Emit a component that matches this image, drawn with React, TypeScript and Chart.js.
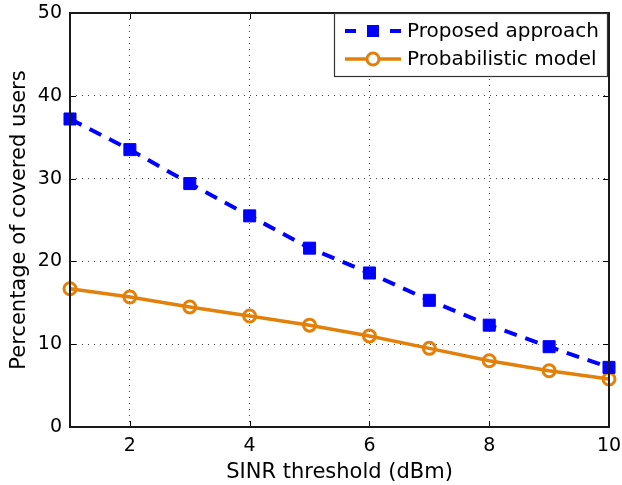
import React, { useEffect, useRef } from "react";
import { Chart, registerables } from "chart.js";

Chart.register(...registerables);

const sinrThreshold = [1, 2, 3, 4, 5, 6, 7, 8, 9, 10];
const proposedApproach = [37.2, 33.5, 29.4, 25.5, 21.6, 18.6, 15.3, 12.3, 9.7, 7.2];
const probabilisticModel = [16.7, 15.7, 14.5, 13.4, 12.3, 11.0, 9.5, 8.0, 6.8, 5.8];
const xTickValues = [2, 4, 6, 8, 10];
const yTickValues = [0, 10, 20, 30, 40, 50];
const seriesLabels = ["Proposed approach", "Probabilistic model"];
const xTitle = "SINR threshold (dBm)";
const yTitle = "Percentage of covered users";

const BLUE = "#0000ff";
const ORANGE = "#e2800a";
const FONT = "'DejaVu Sans', 'Liberation Sans', Arial, sans-serif";

const frameAndLegend = {
  id: "frameAndLegend",
  afterDatasetsDraw(chart: any) {
    const { ctx, chartArea: a, scales } = chart;
    ctx.save();
    // inner tick marks
    ctx.strokeStyle = "#000";
    ctx.lineWidth = 1;
    const tl = 6;
    xTickValues.forEach((v) => {
      const x = Math.round(scales.x.getPixelForValue(v)) + 0.5;
      ctx.beginPath();
      ctx.moveTo(x, a.bottom);
      ctx.lineTo(x, a.bottom - tl);
      ctx.moveTo(x, a.top);
      ctx.lineTo(x, a.top + tl);
      ctx.stroke();
    });
    yTickValues.forEach((v) => {
      const y = Math.round(scales.y.getPixelForValue(v)) + 0.5;
      ctx.beginPath();
      ctx.moveTo(a.left, y);
      ctx.lineTo(a.left + tl, y);
      ctx.moveTo(a.right, y);
      ctx.lineTo(a.right - tl, y);
      ctx.stroke();
    });
    // frame
    ctx.strokeStyle = "#1a1a1a";
    ctx.lineWidth = 2;
    ctx.strokeRect(a.left, a.top, a.right - a.left, a.bottom - a.top);

    // legend
    const bx = a.right - 275;
    const by = a.top;
    const bw = 273;
    const bh = 63;
    ctx.fillStyle = "#fff";
    ctx.fillRect(bx, by, bw, bh);
    ctx.strokeStyle = "#333";
    ctx.lineWidth = 1.2;
    ctx.strokeRect(bx + 0.5, by + 0.5, bw, bh);

    const rows = [by + 18, by + 46];
    const x0 = bx + 11;
    const x1 = bx + 67;
    const xm = (x0 + x1) / 2;
    // row 1: dashed blue with square
    ctx.strokeStyle = BLUE;
    ctx.lineWidth = 4;
    ctx.beginPath();
    ctx.moveTo(x0, rows[0]);
    ctx.lineTo(x0 + 11, rows[0]);
    ctx.moveTo(x1 - 11, rows[0]);
    ctx.lineTo(x1, rows[0]);
    ctx.stroke();
    ctx.fillStyle = BLUE;
    ctx.fillRect(xm - 6, rows[0] - 6, 12, 12);
    // row 2: solid orange with circle
    ctx.strokeStyle = ORANGE;
    ctx.lineWidth = 3.5;
    ctx.beginPath();
    ctx.moveTo(x0, rows[1]);
    ctx.lineTo(x1, rows[1]);
    ctx.stroke();
    ctx.fillStyle = "#fff";
    ctx.lineWidth = 3;
    ctx.beginPath();
    ctx.arc(xm, rows[1], 6, 0, Math.PI * 2);
    ctx.fill();
    ctx.stroke();

    ctx.fillStyle = "#000";
    ctx.font = `20px ${FONT}`;
    ctx.textBaseline = "middle";
    ctx.textAlign = "left";
    ctx.fillText(seriesLabels[0], bx + 73, rows[0] + 1);
    ctx.fillText(seriesLabels[1], bx + 73, rows[1] + 1);
    ctx.restore();
  },
};

export default function App() {
  const ref = useRef<HTMLCanvasElement>(null);
  useEffect(() => {
    document.body.style.margin = "0";
    const chart = new Chart(ref.current!, {
      type: "line",
      data: {
        labels: sinrThreshold,
        datasets: [
          {
            label: seriesLabels[0],
            data: sinrThreshold.map((x, i) => ({ x, y: proposedApproach[i] })),
            borderColor: BLUE,
            backgroundColor: BLUE,
            borderWidth: 4,
            borderDash: [13, 9],
            pointStyle: "rect",
            pointRadius: 8.5,
            pointBorderWidth: 1,
            pointBackgroundColor: BLUE,
            pointBorderColor: BLUE,
            tension: 0,
            clip: false,
          },
          {
            label: seriesLabels[1],
            data: sinrThreshold.map((x, i) => ({ x, y: probabilisticModel[i] })),
            borderColor: ORANGE,
            backgroundColor: "#fff",
            borderWidth: 3.5,
            pointStyle: "circle",
            pointRadius: 6,
            pointBorderWidth: 3,
            pointBackgroundColor: "rgba(255,255,255,0)",
            pointBorderColor: ORANGE,
            tension: 0,
            clip: false,
          },
        ],
      },
      options: {
        animation: false,
        responsive: false,
        devicePixelRatio: 1,
        layout: { padding: { top: 13, right: 13, left: 0, bottom: 0 } },
        plugins: { legend: { display: false }, tooltip: { enabled: false } },
        scales: {
          x: {
            type: "linear",
            min: 1,
            max: 10,
            afterBuildTicks: (s: any) => {
              s.ticks = xTickValues.map((v) => ({ value: v }));
            },
            afterFit: (s: any) => {
              s.height = 58;
              s.paddingLeft = 0;
              s.paddingRight = 0;
            },
            grid: { color: "rgba(0,0,0,0.75)", lineWidth: 1, drawTicks: false },
            border: { display: false, dash: [1, 5] },
            ticks: {
              color: "#000",
              padding: 8,
              maxRotation: 0,
              font: { family: FONT, size: 19 },
              callback: (v: any) => String(v),
            },
            title: {
              display: true,
              text: xTitle,
              color: "#000",
              font: { family: FONT, size: 21 },
              padding: { top: 0, bottom: 0 },
            },
          },
          y: {
            type: "linear",
            min: 0,
            max: 50,
            afterBuildTicks: (s: any) => {
              s.ticks = yTickValues.map((v) => ({ value: v }));
            },
            afterFit: (s: any) => {
              s.width = 70;
              s.paddingTop = 0;
              s.paddingBottom = 0;
            },
            grid: { color: "rgba(0,0,0,0.75)", lineWidth: 1, drawTicks: false },
            border: { display: false, dash: [1, 5] },
            ticks: {
              color: "#000",
              padding: 8,
              font: { family: FONT, size: 19 },
              callback: (v: any) => String(v),
            },
            title: {
              display: true,
              text: yTitle,
              color: "#000",
              font: { family: FONT, size: 21 },
              padding: { top: 7, bottom: 0 },
            },
          },
        },
      },
      plugins: [frameAndLegend],
    });
    return () => chart.destroy();
  }, []);
  return (
    <div style={{ position: "absolute", left: 0, top: 0, width: 622, height: 485, background: "#fff" }}>
      <canvas ref={ref} width={622} height={485} style={{ display: "block", width: 622, height: 485 }} />
    </div>
  );
}
